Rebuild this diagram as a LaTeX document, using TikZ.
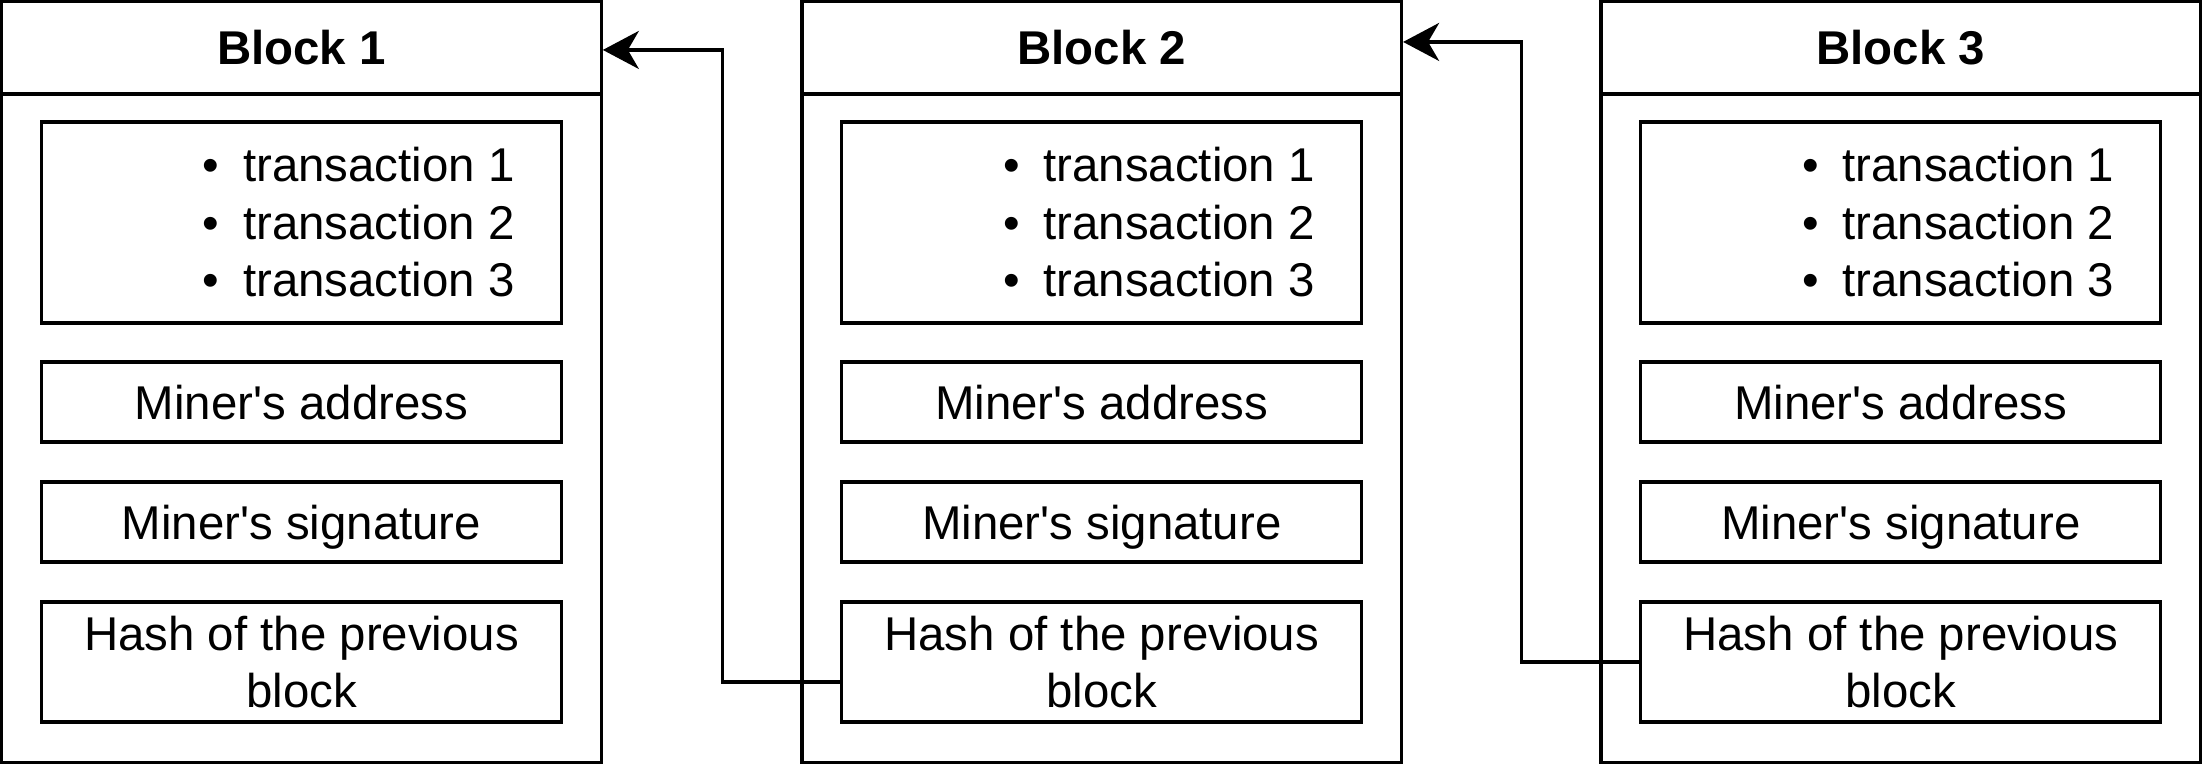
\documentclass[tikz,border=0pt]{standalone}
\usepackage{fontspec}
\setmainfont{Liberation Sans}
\usetikzlibrary{arrows.meta,calc}
\newcommand\txbullet{\llap{•\hspace{11.85pt}}}
\begin{document}
\begin{tikzpicture}[x=0.5pt,y=-0.5pt,
  every node/.style={inner sep=0pt, outer sep=0pt},
  ln/.style={line width=1.7pt},
  txtfont/.style={font=\fontsize{23.7pt}{28.75pt}\selectfont},
  head/.style={draw, ln, minimum width=299.75pt, minimum height=46.25pt,
    font=\fontsize{23.7pt}{28.75pt}\selectfont\bfseries, text height=17pt, text depth=0pt},
  body/.style={draw, ln, minimum width=299.75pt, minimum height=334.25pt},
  field/.style={draw, ln, minimum width=260pt, txtfont},
  onefield/.style={field, minimum height=40pt, text height=17pt, text depth=0pt},
  list/.style={align=left, txtfont},
  link/.style={ln, -{Stealth[length=18pt,width=19pt,inset=5.5pt]}}
]
\useasboundingbox (0,0) rectangle (2204,764);
\foreach \i/\cx in {1/301.5, 2/1101.75, 3/1900.75} {
  \node[head] (head\i) at (\cx,47.75) {Block \i};
  \node[body] (body\i) at (\cx,428.25) {};
  \node[field, minimum height=100.5pt] (tx\i) at (\cx,222.5) {};
  \node[list, anchor=west] (txl\i) at (\cx-58.25,222.5)
    {\txbullet transaction 1\\\txbullet transaction 2\\\txbullet transaction 3};
  \node[onefield] (addr\i) at (\cx,402) {Miner\textquotesingle s address};
  \node[onefield] (sig\i) at (\cx,522) {Miner\textquotesingle s signature};
  \node[field, minimum height=60pt, align=center] (hash\i) at (\cx,662)
    {Hash of the previous\\block};
}
\draw[link] ([yshift=-10pt]hash2.west) -- ++(-119.3,0) |- ([xshift=0.8pt,yshift=-1.1pt]head1.east);
\draw[link] (hash3.west) -- ++(-119,0) |- ([xshift=0.8pt,yshift=2.9pt]head2.east);
\end{tikzpicture}
\end{document}
